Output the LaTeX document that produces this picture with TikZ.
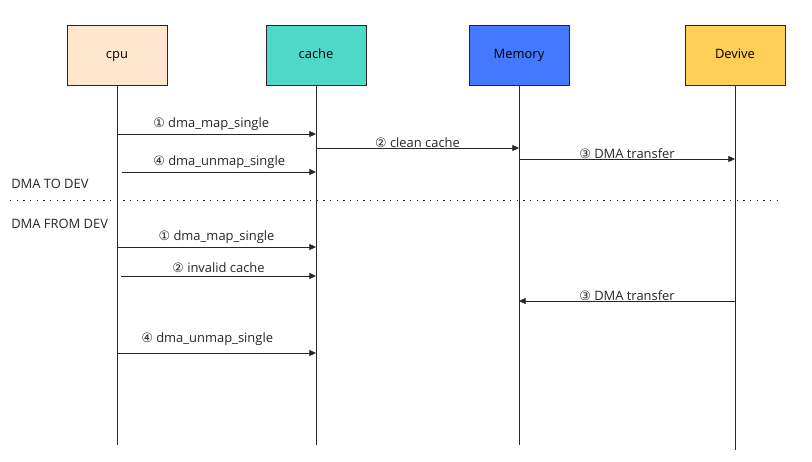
\documentclass[tikz,border=0pt]{standalone}
\usepackage{fontspec}
\setmainfont{Open Sans}
\newfontfamily\circfont{DejaVu Sans}
\usetikzlibrary{arrows.meta, calc}

\definecolor{cpufill}{HTML}{FFE6CC}
\definecolor{cachefill}{HTML}{4ED8C7}
\definecolor{memfill}{HTML}{4479FF}
\definecolor{devfill}{HTML}{FFCE57}

\newcommand{\stepno}[1]{{\circfont\ifcase#1\or ①\or ②\or ③\or ④\fi}}

\begin{document}
\begin{tikzpicture}[
    x=0.75pt, y=-0.75pt,
    font=\fontsize{9.7}{11.5}\selectfont,
    % Lifeline head style
    headbox/.style={
        rectangle,
        draw=black!85,
        minimum width=75pt,
        minimum height=45pt,
        text height=1.1ex,
        text depth=0pt,
        inner sep=0pt
    },
    % Lifeline style
    lifeline/.style={
        draw=black!85,
        line width=0.6pt
    },
    % Message style
    msg/.style={
        -{Triangle[length=5pt,width=4.5pt]},
        line width=0.6pt,
        black!85
    },
    msglabel/.style={
        above,
        inner sep=2pt,
        text=black!85
    },
    sectionlabel/.style={
        anchor=west,
        inner sep=0pt,
        text=black!85
    }
]
\useasboundingbox (0,0) rectangle (812,461);

% === Lifeline heads ===
\node[headbox, fill=cpufill] (cpu) at (117,55) {cpu};
\node[headbox, fill=cachefill] (cache) at (316,55) {cache};
\node[headbox, fill=memfill] (mem) at (519,55) {Memory};
\node[headbox, fill=devfill] (dev) at (735,55) {Devive};

% === Lifelines ===
\coordinate (bottom) at (0,445);
\coordinate (devbottom) at (0,450);
\draw[lifeline] (cpu.south) -- (cpu |- bottom);
\draw[lifeline] (cache.south) -- (cache |- bottom);
\draw[lifeline] (mem.south) -- (mem |- bottom);
\draw[lifeline] (dev.south) -- (dev |- devbottom);

% === DMA TO DEV ===
\coordinate (r1) at (0,134);
\coordinate (r2) at (0,148);
\coordinate (r3) at (0,159);
\coordinate (r4) at (0,172);

\draw[msg] (cpu |- r1) -- node[msglabel, xshift=-4pt] {\stepno{1} dma\_map\_single} (cache |- r1);
\draw[msg] (cache |- r2) -- node[msglabel, yshift=-2pt] {\stepno{2} clean cache} (mem |- r2);
\draw[msg] (mem |- r3) -- node[msglabel, yshift=-2pt] {\stepno{3} DMA transfer} (dev |- r3);
\draw[msg] ([xshift=4pt]cpu |- r4) -- node[msglabel] {\stepno{4} dma\_unmap\_single} (cache |- r4);

\node[sectionlabel] (todev) at (11,184) {DMA TO DEV};

% === Separator ===
\coordinate (sepleft) at (10,200);
\coordinate (sepright) at (780,200);
\draw[black!85, line width=0.6pt, dash pattern=on 1pt off 4pt] (sepleft) -- (sepright);

% === DMA FROM DEV ===
\node[sectionlabel] (fromdev) at (11,224) {DMA FROM DEV};

\coordinate (r5) at (0,247);
\coordinate (r6) at (0,276);
\coordinate (r7) at (0,301);
\coordinate (r8) at (0,353);

\draw[msg] (cpu |- r5) -- node[msglabel] {\stepno{1} dma\_map\_single} (cache |- r5);
\draw[msg] ([xshift=3pt]cpu |- r6) -- node[msglabel] {\stepno{2} invalid cache} (cache |- r6);
\draw[msg] (dev |- r7) -- node[msglabel, yshift=-2pt] {\stepno{3} DMA transfer} (mem |- r7);
\draw[msg] (cpu |- r8) -- node[msglabel, yshift=3pt, xshift=-7pt] {\stepno{4} dma\_unmap\_single} (cache |- r8);

\end{tikzpicture}
\end{document}
